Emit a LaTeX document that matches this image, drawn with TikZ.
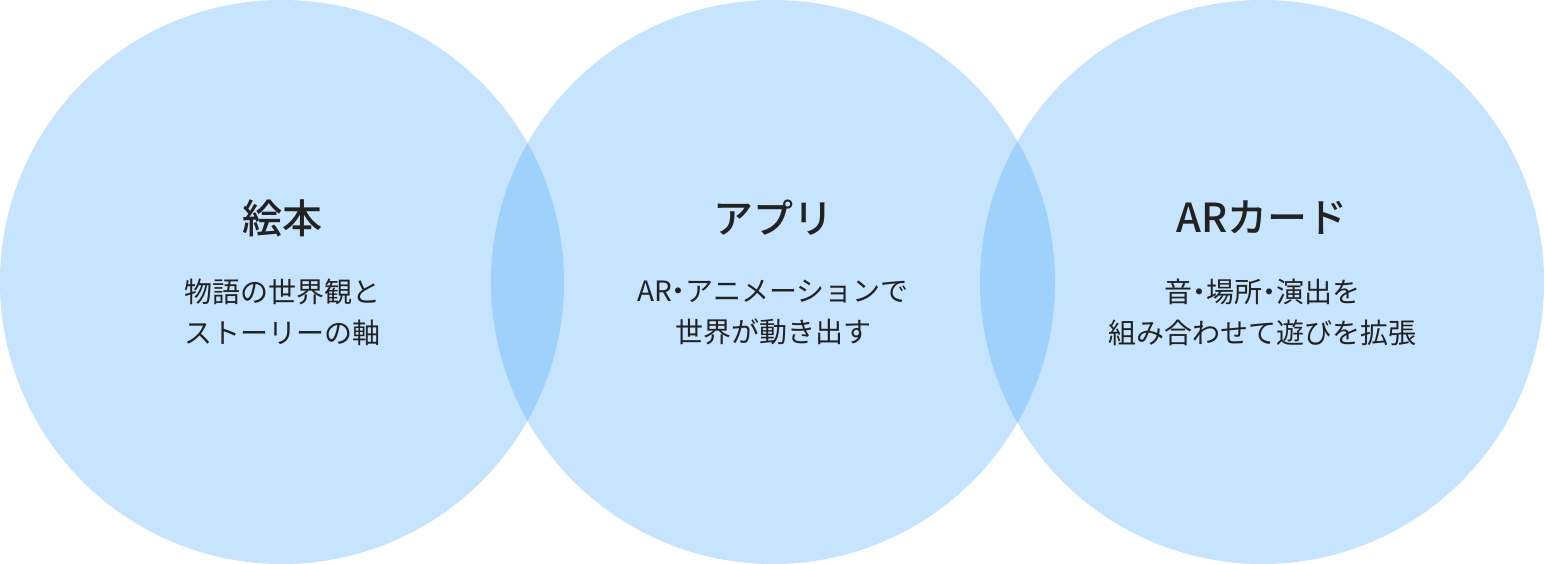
\documentclass[tikz,border=0pt]{standalone}
\usepackage{fontspec}
\setmainfont{Noto Sans CJK JP}
\newfontfamily\jpmed{Noto Sans CJK JP Medium}
\newfontfamily\jpp[RawFeature=+palt]{Noto Sans CJK JP}
\newcommand{\mdot}{{\jpp ・}}
\definecolor{circ}{HTML}{C6E4FD}
\definecolor{ovl}{HTML}{A0D1FC}
\definecolor{txt}{HTML}{222222}
\begin{document}
\begin{tikzpicture}[x=1pt,y=-1pt,
  title/.style={font=\fontsize{40}{48}\selectfont\jpmed,text=txt,inner sep=0pt,anchor=center},
  body/.style={font=\fontsize{28}{41}\selectfont,text=txt,inner sep=0pt,align=center,anchor=center}]
\useasboundingbox (0,0) rectangle (1544,564);
\fill[circ] (282,282) circle[radius=282];
\fill[circ] (773,282) circle[radius=282];
\fill[circ] (1262,282) circle[radius=282];
\begin{scope}
\clip (282,282) circle[radius=282];
\fill[ovl] (773,282) circle[radius=282];
\end{scope}
\begin{scope}
\clip (773,282) circle[radius=282];
\fill[ovl] (1262,282) circle[radius=282];
\end{scope}
\node[title] (t1) at (282,218) {絵本};
\node[title] (t2) at (773,218) {アプリ};
\node[title] (t3) at (1262,218) {ARカード};
\node[body] (b1) at (282,312) {物語の世界観と\\ストーリーの軸};
\node[body] (b2) at (773,312) {AR\mdot アニメーションで\\世界が動き出す};
\node[body] (b3) at (1262,312) {音\mdot 場所\mdot 演出を\\組み合わせて遊びを拡張};
\end{tikzpicture}
\end{document}
